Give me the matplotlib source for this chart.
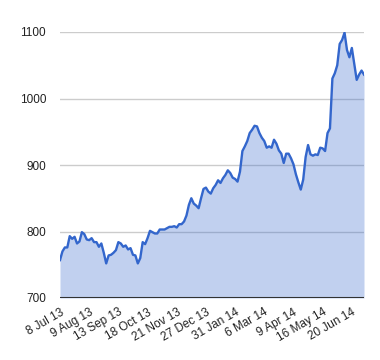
import matplotlib
matplotlib.use('Agg')
import matplotlib.pyplot as plt

plt.rcParams['font.family'] = ['Liberation Sans', 'DejaVu Sans']

# closing values, every second trading day from 8 Jul 13
values = [757, 770, 776, 776, 793, 789, 792, 782, 785, 799,
          796, 788, 787, 790, 784, 784, 777, 782, 768, 752,
          764, 765, 768, 772, 784, 782, 777, 779, 773, 775,
          765, 764, 752, 760, 784, 781, 790, 801, 799, 797,
          797, 803, 803, 803, 805, 807, 807, 808, 806, 811,
          811, 815, 824, 840, 850, 842, 839, 835, 850, 864,
          866, 860, 857, 865, 870, 877, 873, 880, 885, 892,
          888, 881, 879, 875, 890, 921, 928, 936, 948, 953,
          959, 958, 948, 941, 936, 926, 928, 926, 938, 932,
          922, 917, 903, 917, 917, 910, 901, 886, 874, 863,
          878, 912, 930, 916, 914, 916, 915, 926, 925, 921,
          948, 955, 1030, 1038, 1050, 1082, 1088, 1099, 1073, 1062,
          1076, 1052, 1028, 1036, 1042, 1036]
days = list(range(0, 2 * len(values), 2))

tick_days = [0, 24, 48, 72, 96, 120, 144, 168, 192, 216, 240]
tick_labels = ['8 Jul 13', '9 Aug 13', '13 Sep 13', '18 Oct 13', '21 Nov 13',
               '27 Dec 13', '31 Jan 14', '6 Mar 14', '9 Apr 14', '16 May 14',
               '20 Jun 14']

fig = plt.figure(figsize=(3.8, 3.6), dpi=100)
ax = fig.add_axes([60 / 380, 1 - 298 / 360, 304 / 380, 266 / 360])

ax.fill_between(days, values, 700, color='#3366cc', alpha=0.3, linewidth=0)
ax.plot(days, values, color='#3366cc', linewidth=1.7)

ax.set_xlim(0, days[-1])
ax.set_ylim(700, 1100)
ax.set_yticks([700, 800, 900, 1000, 1100])
ax.grid(axis='y', color='#cccccc', linewidth=1)
ax.set_axisbelow(True)
ax.axhline(700, color='#333333', linewidth=1.5)

for s in ax.spines.values():
    s.set_visible(False)

ax.set_xticks(tick_days)
ax.set_xticklabels(tick_labels, rotation=30, ha='right', va='top',
                   rotation_mode='anchor')
ax.tick_params(axis='both', length=0, labelsize=8.5, colors='#222222')
ax.tick_params(axis='y', pad=10)
ax.tick_params(axis='x', pad=6)

fig.savefig('out.png', dpi=100)
